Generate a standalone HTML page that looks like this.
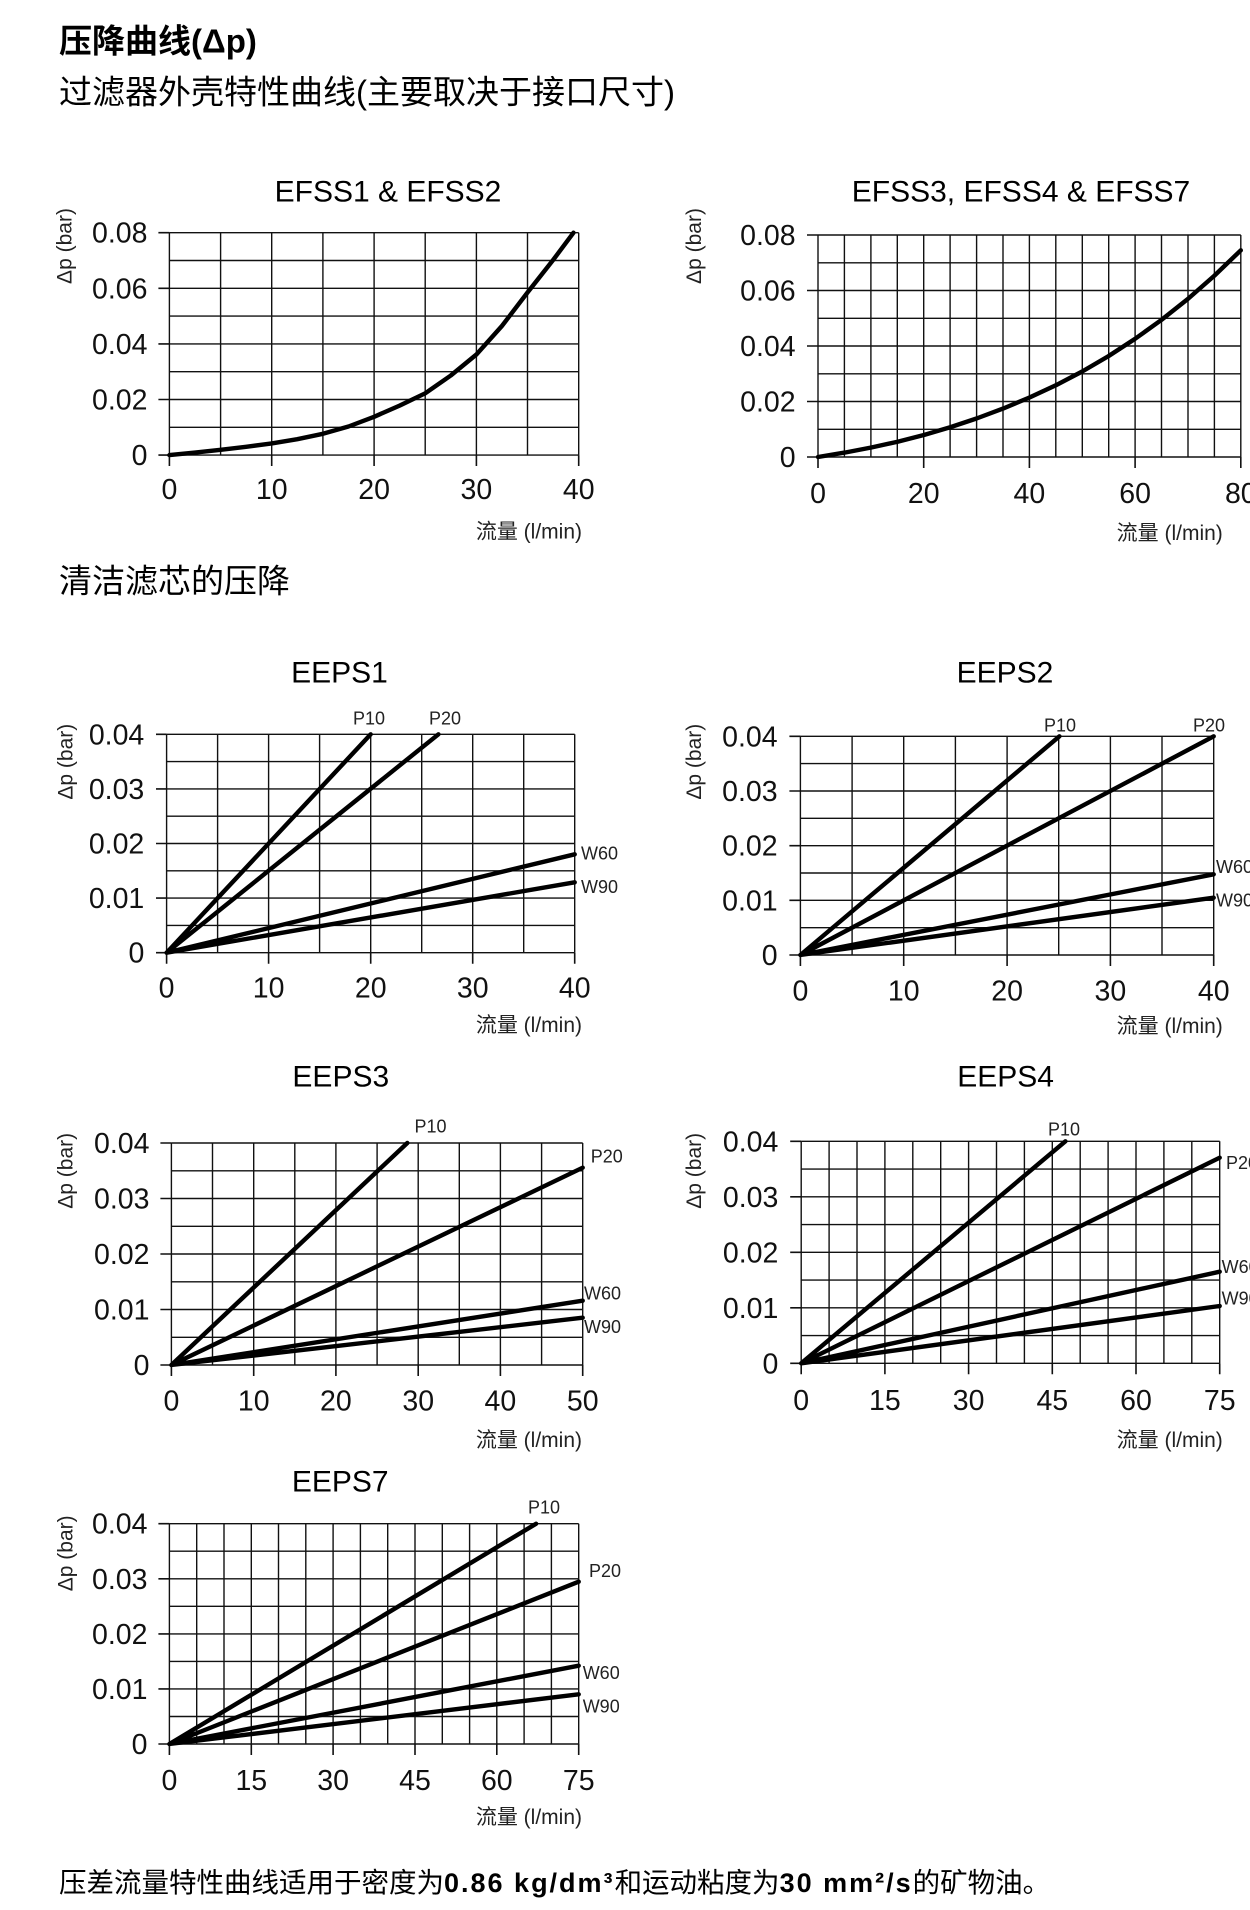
<!DOCTYPE html>
<html><head><meta charset="utf-8"><style>
html,body{margin:0;padding:0;background:#fff;}
body{width:1250px;height:1910px;overflow:hidden;}
svg{display:block;}
.g{stroke:#111;stroke-width:1.4;fill:none;}
.tk{stroke:#111;stroke-width:1.6;fill:none;}
.d{stroke:#000;stroke-width:4.4;fill:none;stroke-linecap:round;stroke-linejoin:round;}
text{font-family:"Liberation Sans","Noto Sans CJK SC",sans-serif;fill:#111;}
.yl{font-size:28.5px;text-anchor:end;}
.xl{font-size:28.5px;text-anchor:middle;}
.ti{font-size:30px;text-anchor:middle;fill:#000;}
.fl{font-size:21px;text-anchor:end;fill:#222;}
.dp{font-size:21px;text-anchor:middle;dominant-baseline:central;fill:#222;}
.sl{font-size:18px;fill:#222;}
.h1{font-size:33px;font-weight:bold;fill:#000;}
.h2{font-size:33px;fill:#000;}
.ft{font-size:27.5px;fill:#000;}
.ftl{font-size:27px;font-weight:bold;letter-spacing:2px;}
</style></head><body>
<svg width="1250" height="1910" viewBox="0 0 1250 1910" xmlns="http://www.w3.org/2000/svg">

<!-- headings -->
<text class="h1" x="59" y="52.5">压降曲线(Δp)</text>
<text class="h2" x="59" y="103.5">过滤器外壳特性曲线(主要取决于接口尺寸)</text>
<text class="h2" x="59" y="592.5">清洁滤芯的压降</text>

<!-- ============ Chart A: EFSS1 & EFSS2 ============ -->
<text class="ti" x="388" y="201.4">EFSS1 &amp; EFSS2</text>
<path class="g" d="M169.4 232.7V455.1M220.6 232.7V455.1M271.7 232.7V455.1M322.9 232.7V455.1M374.1 232.7V455.1M425.2 232.7V455.1M476.4 232.7V455.1M527.5 232.7V455.1M578.7 232.7V455.1
M169.4 232.7H578.7M169.4 260.5H578.7M169.4 288.3H578.7M169.4 316.1H578.7M169.4 343.9H578.7M169.4 371.7H578.7M169.4 399.5H578.7M169.4 427.3H578.7M169.4 455.1H578.7"/>
<path class="tk" d="M158.4 232.7H169.4M158.4 288.3H169.4M158.4 343.9H169.4M158.4 399.5H169.4M158.4 455.1H169.4
M169.4 455.1V466M271.7 455.1V466M374.1 455.1V466M476.4 455.1V466M578.7 455.1V466"/>
<text class="yl" x="147.5" y="242.7">0.08</text>
<text class="yl" x="147.5" y="298.3">0.06</text>
<text class="yl" x="147.5" y="353.9">0.04</text>
<text class="yl" x="147.5" y="409.5">0.02</text>
<text class="yl" x="147.5" y="465.1">0</text>
<text class="xl" x="169.4" y="499">0</text>
<text class="xl" x="271.7" y="499">10</text>
<text class="xl" x="374.1" y="499">20</text>
<text class="xl" x="476.4" y="499">30</text>
<text class="xl" x="578.7" y="499">40</text>
<text class="fl" x="582" y="538.5">流量 (l/min)</text>
<text class="dp" transform="translate(64.8,246) rotate(-90)">Δp (bar)</text>
<polyline class="d" points="169.4,455.1 195,452.6 220.6,449.8 246.1,446.8 271.7,443.4 297.3,439.2 322.9,433.8 348.5,426.5 374.1,416.8 399.6,405.6 425.2,393.3 450.8,375.5 476.4,354.5 501.9,326 527.5,292.5 553.1,260 573.5,232.7"/>

<!-- ============ Chart B: EFSS3, EFSS4 & EFSS7 ============ -->
<text class="ti" x="1021" y="201.7">EFSS3, EFSS4 &amp; EFSS7</text>
<path class="g" d="M818 235V457M844.4 235V457M870.9 235V457M897.3 235V457M923.7 235V457M950.1 235V457M976.6 235V457M1003 235V457M1029.4 235V457M1055.8 235V457M1082.3 235V457M1108.7 235V457M1135.1 235V457M1161.5 235V457M1188 235V457M1214.4 235V457M1240.8 235V457
M818 235H1240.8M818 262.8H1240.8M818 290.5H1240.8M818 318.3H1240.8M818 346H1240.8M818 373.8H1240.8M818 401.5H1240.8M818 429.3H1240.8M818 457H1240.8"/>
<path class="tk" d="M807 235H818M807 290.5H818M807 346H818M807 401.5H818M807 457H818
M818 457V468M923.7 457V468M1029.4 457V468M1135.1 457V468M1240.8 457V468"/>
<text class="yl" x="795.6" y="245">0.08</text>
<text class="yl" x="795.6" y="300.5">0.06</text>
<text class="yl" x="795.6" y="356">0.04</text>
<text class="yl" x="795.6" y="411.5">0.02</text>
<text class="yl" x="795.6" y="467">0</text>
<text class="xl" x="818" y="503">0</text>
<text class="xl" x="923.7" y="503">20</text>
<text class="xl" x="1029.4" y="503">40</text>
<text class="xl" x="1135.1" y="503">60</text>
<text class="xl" x="1240.8" y="503">80</text>
<text class="fl" x="1222.8" y="540">流量 (l/min)</text>
<text class="dp" transform="translate(694.7,246) rotate(-90)">Δp (bar)</text>
<polyline class="d" points="818,457 844.65,452.6 871.3,447.5 897.6,441.75 923.9,435 950.2,427.25 976.5,418.5 1003,408.6 1029.5,397.5 1055.85,385.3 1082.2,371.5 1108.5,356.15 1134.8,339 1161.3,320 1187.8,299 1214.3,275.75 1240.8,250.3"/>

<!-- ============ Chart C: EEPS1 ============ -->
<text class="ti" x="339.5" y="682.5">EEPS1</text>
<path class="g" d="M166.6 734.3V952.7M217.6 734.3V952.7M268.6 734.3V952.7M319.6 734.3V952.7M370.7 734.3V952.7M421.7 734.3V952.7M472.7 734.3V952.7M523.7 734.3V952.7M574.7 734.3V952.7
M166.6 734.3H574.7M166.6 761.6H574.7M166.6 788.9H574.7M166.6 816.2H574.7M166.6 843.5H574.7M166.6 870.8H574.7M166.6 898.1H574.7M166.6 925.4H574.7M166.6 952.7H574.7"/>
<path class="tk" d="M156 734.3H166.6M156 788.9H166.6M156 843.5H166.6M156 898.1H166.6M156 952.7H166.6
M166.6 952.7V963.7M268.6 952.7V963.7M370.7 952.7V963.7M472.7 952.7V963.7M574.7 952.7V963.7"/>
<text class="yl" x="144.3" y="744.3">0.04</text>
<text class="yl" x="144.3" y="798.9">0.03</text>
<text class="yl" x="144.3" y="853.5">0.02</text>
<text class="yl" x="144.3" y="908.1">0.01</text>
<text class="yl" x="144.3" y="962.7">0</text>
<text class="xl" x="166.6" y="997.3">0</text>
<text class="xl" x="268.6" y="997.3">10</text>
<text class="xl" x="370.7" y="997.3">20</text>
<text class="xl" x="472.7" y="997.3">30</text>
<text class="xl" x="574.7" y="997.3">40</text>
<text class="fl" x="582" y="1032">流量 (l/min)</text>
<text class="dp" transform="translate(65.8,761.7) rotate(-90)">Δp (bar)</text>
<path class="d" d="M166.6 952.7L370.7 734.3M166.6 952.7L438.4 734.3M166.6 952.7L574.7 854.3M166.6 952.7L574.7 882.3"/>
<text class="sl" x="353" y="724.5">P10</text>
<text class="sl" x="429" y="724.5">P20</text>
<text class="sl" x="581" y="859.7">W60</text>
<text class="sl" x="581" y="893">W90</text>

<!-- ============ Chart D: EEPS2 ============ -->
<text class="ti" x="1005" y="682.7">EEPS2</text>
<path class="g" d="M800.4 736.3V955M852.1 736.3V955M903.7 736.3V955M955.4 736.3V955M1007.1 736.3V955M1058.7 736.3V955M1110.4 736.3V955M1162 736.3V955M1213.7 736.3V955
M800.4 736.3H1213.7M800.4 763.6H1213.7M800.4 791H1213.7M800.4 818.3H1213.7M800.4 845.7H1213.7M800.4 873H1213.7M800.4 900.3H1213.7M800.4 927.7H1213.7M800.4 955H1213.7"/>
<path class="tk" d="M789.4 736.3H800.4M789.4 791H800.4M789.4 845.7H800.4M789.4 900.3H800.4M789.4 955H800.4
M800.4 955V966M903.7 955V966M1007.1 955V966M1110.4 955V966M1213.7 955V966"/>
<text class="yl" x="777.6" y="746.3">0.04</text>
<text class="yl" x="777.6" y="801">0.03</text>
<text class="yl" x="777.6" y="855.7">0.02</text>
<text class="yl" x="777.6" y="910.3">0.01</text>
<text class="yl" x="777.6" y="965">0</text>
<text class="xl" x="800.4" y="1000.7">0</text>
<text class="xl" x="903.7" y="1000.7">10</text>
<text class="xl" x="1007.1" y="1000.7">20</text>
<text class="xl" x="1110.4" y="1000.7">30</text>
<text class="xl" x="1213.7" y="1000.7">40</text>
<text class="fl" x="1222.8" y="1033">流量 (l/min)</text>
<text class="dp" transform="translate(694.7,761.7) rotate(-90)">Δp (bar)</text>
<path class="d" d="M800.4 955L1059.4 736.3M800.4 955L1213.7 736.3M800.4 955L1213.7 874.3M800.4 955L1213.7 897.7"/>
<text class="sl" x="1044" y="731.5">P10</text>
<text class="sl" x="1193" y="731.5">P20</text>
<text class="sl" x="1216" y="873">W60</text>
<text class="sl" x="1216" y="906.5">W90</text>

<!-- ============ Chart E: EEPS3 ============ -->
<text class="ti" x="340.8" y="1086.7">EEPS3</text>
<path class="g" d="M171.4 1143V1365M212.5 1143V1365M253.7 1143V1365M294.8 1143V1365M335.9 1143V1365M377.1 1143V1365M418.2 1143V1365M459.3 1143V1365M500.4 1143V1365M541.6 1143V1365M582.7 1143V1365
M171.4 1143H582.7M171.4 1170.8H582.7M171.4 1198.5H582.7M171.4 1226.3H582.7M171.4 1254H582.7M171.4 1281.8H582.7M171.4 1309.5H582.7M171.4 1337.3H582.7M171.4 1365H582.7"/>
<path class="tk" d="M160.4 1143H171.4M160.4 1198.5H171.4M160.4 1254H171.4M160.4 1309.5H171.4M160.4 1365H171.4
M171.4 1365V1376M253.7 1365V1376M335.9 1365V1376M418.2 1365V1376M500.4 1365V1376M582.7 1365V1376"/>
<text class="yl" x="149.5" y="1153">0.04</text>
<text class="yl" x="149.5" y="1208.5">0.03</text>
<text class="yl" x="149.5" y="1264">0.02</text>
<text class="yl" x="149.5" y="1319.5">0.01</text>
<text class="yl" x="149.5" y="1375">0</text>
<text class="xl" x="171.4" y="1410.7">0</text>
<text class="xl" x="253.7" y="1410.7">10</text>
<text class="xl" x="335.9" y="1410.7">20</text>
<text class="xl" x="418.2" y="1410.7">30</text>
<text class="xl" x="500.4" y="1410.7">40</text>
<text class="xl" x="582.7" y="1410.7">50</text>
<text class="fl" x="582" y="1447">流量 (l/min)</text>
<text class="dp" transform="translate(65.8,1170.8) rotate(-90)">Δp (bar)</text>
<path class="d" d="M171.4 1365L407.3 1143M171.4 1365L582.7 1167.7M171.4 1365L582.7 1300.7M171.4 1365L582.7 1317.7"/>
<text class="sl" x="414.5" y="1132.4">P10</text>
<text class="sl" x="590.7" y="1162.4">P20</text>
<text class="sl" x="584" y="1299.7">W60</text>
<text class="sl" x="584" y="1333">W90</text>

<!-- ============ Chart F: EEPS4 ============ -->
<text class="ti" x="1005.6" y="1086.7">EEPS4</text>
<path class="g" d="M801.2 1141.3V1363.3M829.1 1141.3V1363.3M857 1141.3V1363.3M884.9 1141.3V1363.3M912.8 1141.3V1363.3M940.7 1141.3V1363.3M968.6 1141.3V1363.3M996.5 1141.3V1363.3M1024.4 1141.3V1363.3M1052.3 1141.3V1363.3M1080.2 1141.3V1363.3M1108.1 1141.3V1363.3M1136 1141.3V1363.3M1163.9 1141.3V1363.3M1191.8 1141.3V1363.3M1219.7 1141.3V1363.3
M801.2 1141.3H1219.7M801.2 1169.1H1219.7M801.2 1196.8H1219.7M801.2 1224.6H1219.7M801.2 1252.3H1219.7M801.2 1280.1H1219.7M801.2 1307.8H1219.7M801.2 1335.6H1219.7M801.2 1363.3H1219.7"/>
<path class="tk" d="M790.2 1141.3H801.2M790.2 1196.8H801.2M790.2 1252.3H801.2M790.2 1307.8H801.2M790.2 1363.3H801.2
M801.2 1363.3V1374.3M884.9 1363.3V1374.3M968.6 1363.3V1374.3M1052.3 1363.3V1374.3M1136 1363.3V1374.3M1219.7 1363.3V1374.3"/>
<text class="yl" x="778.4" y="1151.3">0.04</text>
<text class="yl" x="778.4" y="1206.8">0.03</text>
<text class="yl" x="778.4" y="1262.3">0.02</text>
<text class="yl" x="778.4" y="1317.8">0.01</text>
<text class="yl" x="778.4" y="1373.3">0</text>
<text class="xl" x="801.2" y="1410">0</text>
<text class="xl" x="884.9" y="1410">15</text>
<text class="xl" x="968.6" y="1410">30</text>
<text class="xl" x="1052.3" y="1410">45</text>
<text class="xl" x="1136" y="1410">60</text>
<text class="xl" x="1219.7" y="1410">75</text>
<text class="fl" x="1222.8" y="1447">流量 (l/min)</text>
<text class="dp" transform="translate(694.7,1170.8) rotate(-90)">Δp (bar)</text>
<path class="d" d="M801.2 1363.3L1065.4 1141.3M801.2 1363.3L1219.7 1157.7M801.2 1363.3L1219.7 1271.7M801.2 1363.3L1219.7 1306"/>
<text class="sl" x="1048" y="1135.7">P10</text>
<text class="sl" x="1226" y="1169">P20</text>
<text class="sl" x="1221.6" y="1273">W60</text>
<text class="sl" x="1221.6" y="1304.7">W90</text>

<!-- ============ Chart G: EEPS7 ============ -->
<text class="ti" x="340.2" y="1491.7">EEPS7</text>
<path class="g" d="M169.4 1523.7V1744M196.7 1523.7V1744M224 1523.7V1744M251.3 1523.7V1744M278.5 1523.7V1744M305.8 1523.7V1744M333.1 1523.7V1744M360.4 1523.7V1744M387.7 1523.7V1744M415 1523.7V1744M442.3 1523.7V1744M469.6 1523.7V1744M496.8 1523.7V1744M524.1 1523.7V1744M551.4 1523.7V1744M578.7 1523.7V1744
M169.4 1523.7H578.7M169.4 1551.2H578.7M169.4 1578.8H578.7M169.4 1606.3H578.7M169.4 1633.9H578.7M169.4 1661.4H578.7M169.4 1688.9H578.7M169.4 1716.5H578.7M169.4 1744H578.7"/>
<path class="tk" d="M158.4 1523.7H169.4M158.4 1578.8H169.4M158.4 1633.9H169.4M158.4 1688.9H169.4M158.4 1744H169.4
M169.4 1744V1755M251.3 1744V1755M333.1 1744V1755M415 1744V1755M496.8 1744V1755M578.7 1744V1755"/>
<text class="yl" x="147.5" y="1533.7">0.04</text>
<text class="yl" x="147.5" y="1588.8">0.03</text>
<text class="yl" x="147.5" y="1643.9">0.02</text>
<text class="yl" x="147.5" y="1698.9">0.01</text>
<text class="yl" x="147.5" y="1754">0</text>
<text class="xl" x="169.4" y="1790">0</text>
<text class="xl" x="251.3" y="1790">15</text>
<text class="xl" x="333.1" y="1790">30</text>
<text class="xl" x="415" y="1790">45</text>
<text class="xl" x="496.8" y="1790">60</text>
<text class="xl" x="578.7" y="1790">75</text>
<text class="fl" x="582" y="1824">流量 (l/min)</text>
<text class="dp" transform="translate(65.8,1553.3) rotate(-90)">Δp (bar)</text>
<path class="d" d="M169.4 1744L536.1 1523.7M169.4 1744L578.7 1581.7M169.4 1744L578.7 1665.7M169.4 1744L578.7 1694.3"/>
<text class="sl" x="528" y="1513.7">P10</text>
<text class="sl" x="589" y="1577">P20</text>
<text class="sl" x="582.7" y="1679">W60</text>
<text class="sl" x="582.7" y="1712.4">W90</text>

<!-- footer -->
<text class="ft" x="59" y="1892">压差流量特性曲线适用于密度为<tspan class="ftl">0.86 kg/dm³</tspan>和运动粘度为<tspan class="ftl">30 mm²/s</tspan>的矿物油。</text>
</svg>
</body></html>
